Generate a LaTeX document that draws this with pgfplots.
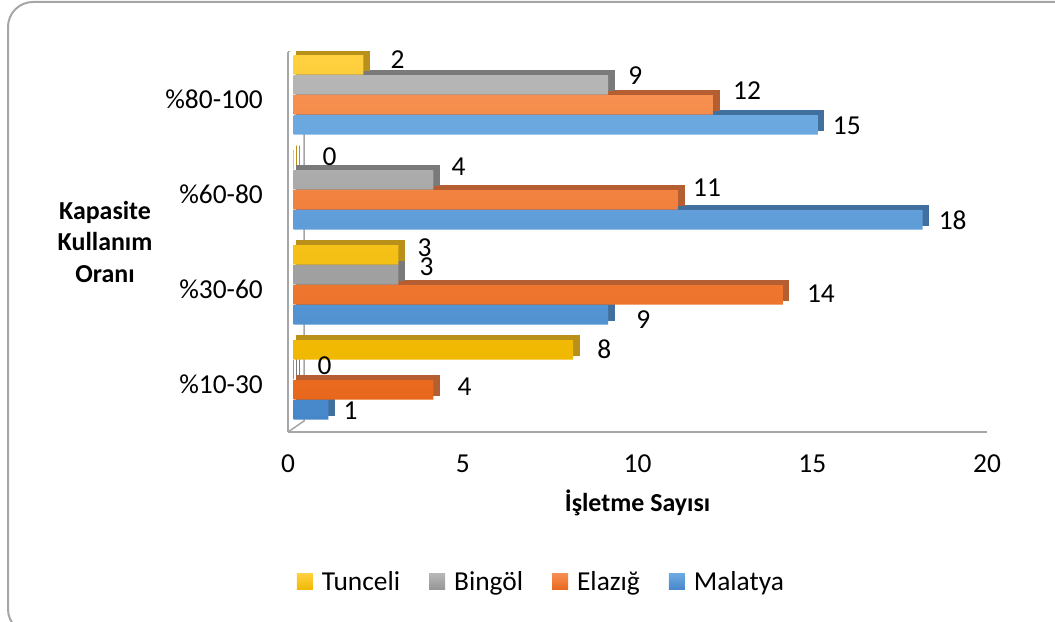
\documentclass[border=0pt]{standalone}
\usepackage{fontspec}
\setmainfont{Carlito}
\usepackage{pgfplots}
\usepackage{pgfplotstable}
\pgfplotsset{compat=1.18}

\definecolor{wall}{HTML}{A6A6A6}
\definecolor{blueT}{HTML}{6DA9E1}\definecolor{blueB}{HTML}{4687CA}\definecolor{blueD}{HTML}{41709F}
\definecolor{orT}{HTML}{F68F50}\definecolor{orB}{HTML}{E8671C}\definecolor{orD}{HTML}{B45E32}
\definecolor{grT}{HTML}{B6B6B6}\definecolor{grB}{HTML}{959595}\definecolor{grD}{HTML}{7A7A7A}
\definecolor{goT}{HTML}{FFD040}\definecolor{goB}{HTML}{F0B800}\definecolor{goD}{HTML}{B8901A}

\newcommand\myF{\fontsize{27.5}{32}\selectfont}

% cat: 0=%10-30, 1=%30-60, 2=%60-80, 3=%80-100 ; dx,dy: label offsets
\pgfplotstableread{
cat val dx dy
0 1 15 -1
1 9 28 -5
2 18 16 0
3 15 15 -1
}\malatya
\pgfplotstableread{
cat val dx dy
0 4 24 3
1 14 24 1
2 11 15 12.5
3 12 20 14
}\elazig
\pgfplotstableread{
cat val dx dy
0 0 24 4
1 3 21 8
2 4 18 13
3 9 20 9
}\bingol
\pgfplotstableread{
cat val dx dy
0 8 24 1
1 3 19 7
2 0 29 3.5
3 2 27 5.5
}\tunceli

\pgfplotsset{
  back/.style n args={3}{forget plot, xbar, bar width=19.5bp, bar shift=#1, xshift=#3,
     fill=#2, draw=#2, line width=0.8bp},
  front/.style n args={3}{forget plot, xbar, bar width=19.5bp, bar shift=#1, xshift=5.5bp,
     draw=none, top color=#2, bottom color=#3,
     nodes near coords, point meta=x,
     visualization depends on={\thisrow{dx}\as\mydx},
     visualization depends on={\thisrow{dy}\as\mydy},
     every node near coord/.append style={anchor=west, inner sep=0pt,
        xshift=\mydx bp, yshift=#1, yshift=\mydy bp, font=\myF, text=black}},
}

\begin{document}
\begin{tikzpicture}[x=1bp,y=1bp]
\useasboundingbox (0,0) rectangle (1055,622);
\draw[overlay, wall, line width=2bp, rounded corners=25bp] (1070,620) -- (8,620) -- (8,-12) -- (1070,-12);
\begin{axis}[
  at={(288bp,190bp)}, anchor=south west, scale only axis,
  width=699bp, height=380bp,
  xmin=0, xmax=20, ymin=-0.5, ymax=3.5,
  xtick={0,5,10,15,20}, ytick={0,1,2,3},
  yticklabels={\%10-30,\%30-60,\%60-80,\%80-100},
  axis x line*=bottom, axis y line*=left,
  axis line style={wall, line width=1.5bp, -},
  major tick length=0pt,
  /pgf/number format/assume math mode=true,
  tick label style={font=\myF, text=black},
  xticklabel style={anchor=base, inner sep=0pt, yshift=-41bp},
  yticklabel style={anchor=east, inner sep=0pt, xshift=-25bp},
  xlabel={İşletme Sayısı},
  xlabel style={font=\bfseries\fontsize{26}{30}\selectfont, at={(axis description cs:0.5,-0.2105)}, anchor=base},
  ylabel={Kapasite\\Kullanım\\Oranı},
  ylabel style={font=\bfseries\fontsize{26}{32}\selectfont, align=center, rotate=-90,
     at={(axis description cs:-0.2618,0.5)}, anchor=center},
  legend style={at={(axis description cs:0.3625,-0.3947)}, anchor=center,
     draw=none, fill=none, font=\myF, inner sep=0pt, legend columns=-1,
     /tikz/every odd column/.append style={column sep=7bp},
     /tikz/every even column/.append style={column sep=27bp}},
  legend cell align=left,
]
\draw[wall, line width=1.5bp] (rel axis cs:0,1) -- ++(16bp,11bp)
   -- ([xshift=16bp,yshift=11bp]rel axis cs:0,0) -- (rel axis cs:0,0);

\addplot[back={-21bp}{blueD}{8.5bp}] table[x=val,y=cat]{\malatya};
\addplot[back={-21bp}{blueD}{11.5bp}] table[x=val,y=cat]{\malatya};
\addplot[front={-25.5bp}{blueT}{blueB}] table[x=val,y=cat]{\malatya};
\addplot[back={-1bp}{orD}{8.5bp}] table[x=val,y=cat]{\elazig};
\addplot[back={-1bp}{orD}{11.5bp}] table[x=val,y=cat]{\elazig};
\addplot[front={-5.5bp}{orT}{orB}] table[x=val,y=cat]{\elazig};
\addplot[back={19bp}{grD}{8.5bp}] table[x=val,y=cat]{\bingol};
\addplot[back={19bp}{grD}{11.5bp}] table[x=val,y=cat]{\bingol};
\addplot[front={14.5bp}{grT}{grB}] table[x=val,y=cat]{\bingol};
\addplot[back={39bp}{goD}{8.5bp}] table[x=val,y=cat]{\tunceli};
\addplot[back={39bp}{goD}{11.5bp}] table[x=val,y=cat]{\tunceli};
\addplot[front={34.5bp}{goT}{goB}] table[x=val,y=cat]{\tunceli};

\addlegendimage{legend image code/.code={\fill[draw=none, top color=goT, bottom color=goB] (0bp,-8bp) rectangle (16bp,8bp);}}
\addlegendentry{Tunceli}
\addlegendimage{legend image code/.code={\fill[draw=none, top color=grT, bottom color=grB] (0bp,-8bp) rectangle (16bp,8bp);}}
\addlegendentry{Bingöl}
\addlegendimage{legend image code/.code={\fill[draw=none, top color=orT, bottom color=orB] (0bp,-8bp) rectangle (16bp,8bp);}}
\addlegendentry{Elazığ}
\addlegendimage{legend image code/.code={\fill[draw=none, top color=blueT, bottom color=blueB] (0bp,-8bp) rectangle (16bp,8bp);}}
\addlegendentry{Malatya}
\end{axis}
\end{tikzpicture}
\end{document}
